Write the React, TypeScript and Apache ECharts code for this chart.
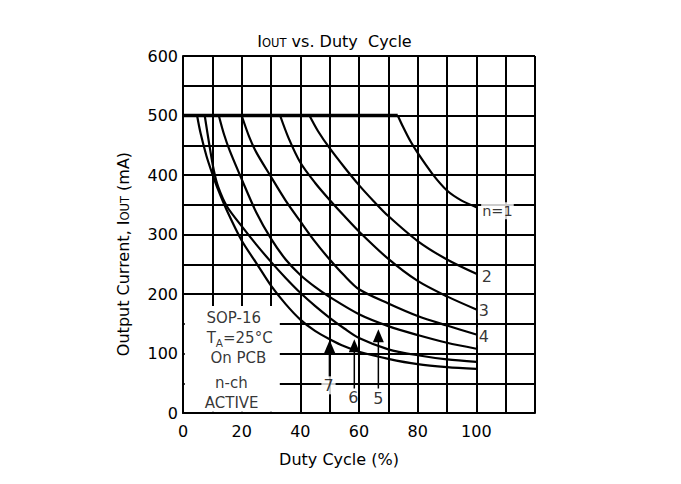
import React, { useEffect, useRef } from "react";
import * as echarts from "echarts";

const FONT = "DejaVu Sans, Liberation Sans, Arial, sans-serif";

// tick labels
const xTickLabels = [0, 20, 40, 60, 80, 100];
const yTickLabels = [0, 100, 200, 300, 400, 500, 600];

// thermal limit (500 mA ceiling)
const ceiling = [[0, 500], [73.2, 500]];

// Output current vs duty cycle for n channels on
const n1 = [[73.2, 500], [75, 481], [77.5, 457], [80, 437], [85, 402], [90, 374], [95, 357], [100, 346]];
const n2 = [[43.1, 500], [46, 474], [50, 445], [55, 413], [60, 383], [65, 356], [70, 331], [80, 289], [90, 258], [100, 234]];
const n3 = [[33.1, 500], [36, 462], [40, 421], [45, 387], [50, 358], [55, 331], [60, 305], [70, 259], [80, 222], [90, 196], [100, 174]];
const n4 = [[20, 500], [22.5, 465], [25, 438], [30, 397], [35, 357], [40, 322], [45, 288], [50, 258], [55, 231], [60, 208], [70, 184], [80, 163], [90, 147], [100, 132]];
const n5 = [[12.2, 500], [14, 468], [16, 440], [20, 393], [25, 337], [30, 293], [35, 258], [40, 232], [45, 212], [50, 195], [60, 166], [70, 146], [80, 131], [90, 118], [100, 108]];
const n6 = [[7.4, 500], [9, 450], [10.5, 408], [12, 380], [15, 347], [20, 314], [25, 283], [30, 254], [35, 227], [40, 202], [45, 180], [50, 160], [55, 142], [60, 126], [70, 107], [80, 97], [90, 90], [100, 86]];
const n7 = [[4.8, 500], [6, 470], [8, 432], [10, 402], [12, 375], [15, 340], [20, 290], [25, 252], [30, 214], [35, 183], [40, 157], [45, 138], [50, 124], [55, 112], [60, 103], [70, 91], [80, 82], [90, 77], [100, 74]];

const curves = [n1, n2, n3, n4, n5, n6, n7];

// pointer arrows for n = 7, 6, 5
const arrowNames = ["7", "6", "5"];
const arrowX = [50, 58.4, 66.6];
const arrowBottom = [60, 41, 41];
const arrowHead = [111.7, 113, 130];

// curve labels
const curveLabelTexts = ["n=1", "2", "3", "4"];
const curveLabelX = [107.2, 103.6, 102.6, 102.6];
const curveLabelY = [339.8, 229.7, 172.5, 129];
const arrowLabelX = [49.6, 58.1, 66.6];
const arrowLabelY = [46.5, 25.4, 24.6];

// condition box
const condTexts = ["SOP-16", "{t|T}{s|A}{t|=25°C}", "On PCB", "n-ch", "ACTIVE"];
const condX = [17.3, 19.3, 18.9, 16.5, 16.6];
const condY = [160, 122.6, 91.9, 51, 17.2];

export default function App() {
  const ref = useRef<HTMLDivElement>(null);

  useEffect(() => {
    if (!ref.current) return;
    const chart = echarts.init(ref.current, undefined, { renderer: "svg" });

    const black = "#000";
    const series: any[] = [];

    // white mask behind the condition text
    series.push({
      type: "line",
      data: [[0, 0]],
      symbol: "none",
      lineStyle: { opacity: 0 },
      silent: true,
      markArea: {
        silent: true,
        itemStyle: { color: "#fff" },
        data: [[{ coord: [0.6, 2] }, { coord: [33, 180] }]],
      },
    });

    series.push({
      type: "line",
      data: ceiling,
      symbol: "none",
      lineStyle: { color: black, width: 3.5 },
      silent: true,
    });

    curves.forEach((c) => {
      series.push({
        type: "line",
        data: c,
        symbol: "none",
        smooth: 0.3,
        lineStyle: { color: black, width: 2.2 },
        silent: true,
      });
    });

    arrowNames.forEach((nm, i) => {
      series.push({
        type: "line",
        data: [
          { value: [arrowX[i], arrowBottom[i]], symbol: "none" },
          { value: [arrowX[i], arrowHead[i]] },
        ],
        symbol: "triangle",
        symbolSize: [11, 13],
        itemStyle: { color: black, borderWidth: 0 },
        lineStyle: { color: black, width: i === 0 ? 2 : 1.5 },
        silent: true,
      });
    });

    const labelItems: any[] = [];
    curveLabelTexts.forEach((t, i) => {
      labelItems.push({
        value: [curveLabelX[i], curveLabelY[i]],
        label: {
          formatter: t,
          fontSize: i === 0 ? 14.5 : 16,
          backgroundColor: "#fff",
          padding: [1, 1],
        },
      });
    });
    arrowNames.forEach((t, i) => {
      labelItems.push({
        value: [arrowLabelX[i], arrowLabelY[i]],
        label: {
          formatter: t,
          fontSize: 16,
          backgroundColor: i === 0 ? "#fff" : "transparent",
          padding: [1, 2],
        },
      });
    });
    condTexts.forEach((t, i) => {
      labelItems.push({
        value: [condX[i], condY[i]],
        label: {
          formatter: t,
          fontSize: 15,
          lineHeight: 15,
          offset: i === 1 ? [0, 1.5] : [0, 0],
          rich: {
            t: { fontSize: 15, lineHeight: 13, verticalAlign: "bottom", padding: [0, 0, 3, 0], fontFamily: FONT, color: black },
            s: { fontSize: 10.5, lineHeight: 13, verticalAlign: "bottom", fontFamily: FONT, color: black },
          },
        },
      });
    });

    series.push({
      type: "scatter",
      data: labelItems,
      symbolSize: 1,
      itemStyle: { color: "rgba(0,0,0,0)" },
      silent: true,
      z: 5,
      label: {
        show: true,
        position: "inside",
        color: black,
        textBorderWidth: 0,
        fontFamily: FONT,
        fontSize: 16,
      },
    });

    const option: any = {
      animation: false,
      backgroundColor: "#fff",
      grid: { left: 183, top: 56, right: 146, bottom: 71 },
      xAxis: {
        type: "value",
        min: 0,
        max: 120,
        interval: 10,
        axisLine: { show: true, lineStyle: { color: black, width: 2 } },
        axisTick: { show: false },
        splitLine: { show: true, lineStyle: { color: black, width: 2 } },
        axisLabel: {
          color: black,
          fontFamily: FONT,
          fontSize: 16,
          margin: 10,
          formatter: (v: number) => (xTickLabels.includes(v) ? String(v) : ""),
        },
      },
      yAxis: {
        type: "value",
        min: 0,
        max: 600,
        interval: 50,
        axisLine: { show: true, lineStyle: { color: black, width: 2 } },
        axisTick: { show: false },
        splitLine: { show: true, lineStyle: { color: black, width: 2 } },
        axisLabel: {
          color: black,
          fontFamily: FONT,
          fontSize: 16,
          margin: 5,
          formatter: (v: number) => (yTickLabels.includes(v) ? String(v) : ""),
        },
      },
      graphic: [
        {
          type: "text",
          x: 334.5,
          y: 40,
          style: {
            text: "{a|I}{b|OUT}{a| vs. Duty  Cycle}",
            fill: black,
            align: "center",
            verticalAlign: "middle",
            rich: {
              a: { fontSize: 16, lineHeight: 18, verticalAlign: "bottom", fontFamily: FONT, fill: black },
              b: { fontSize: 11.5, lineHeight: 18, verticalAlign: "bottom", fontFamily: FONT, fill: black },
            },
          },
        },
        {
          type: "text",
          x: 339,
          y: 459,
          style: {
            text: "Duty Cycle (%)",
            fill: black,
            font: "16px " + FONT,
            align: "center",
            verticalAlign: "middle",
          },
        },
        {
          type: "text",
          x: 122,
          y: 254,
          rotation: Math.PI / 2,
          style: {
            text: "{a|Output Current, I}{b|OUT}{a| (mA)}",
            fill: black,
            align: "center",
            verticalAlign: "middle",
            rich: {
              a: { fontSize: 16, lineHeight: 18, verticalAlign: "bottom", fontFamily: FONT, fill: black },
              b: { fontSize: 11.5, lineHeight: 18, verticalAlign: "bottom", fontFamily: FONT, fill: black },
            },
          },
        },
      ],
      series,
    };

    chart.setOption(option);
    return () => chart.dispose();
  }, []);

  return (
    <div
      ref={ref}
      style={{ position: "absolute", left: 0, top: 0, width: 681, height: 484, background: "#fff" }}
    />
  );
}
